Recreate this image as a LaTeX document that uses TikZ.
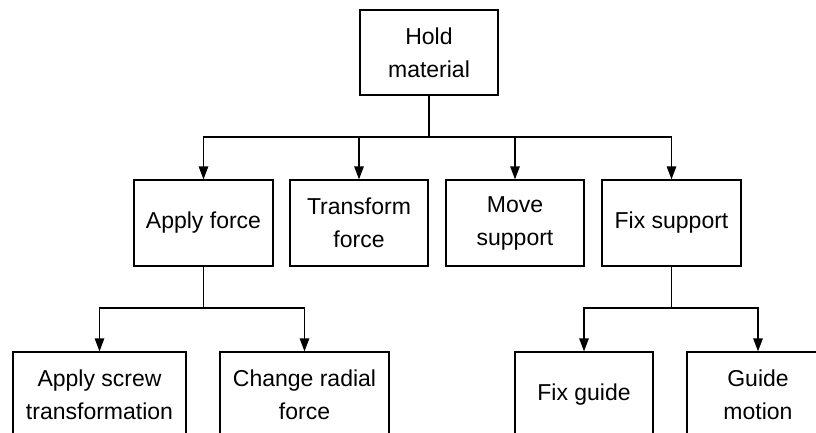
\documentclass[tikz,border=0pt]{standalone}
\usepackage{fontspec}
\setmainfont{Liberation Sans}
\usetikzlibrary{arrows.meta}
\begin{document}
\begin{tikzpicture}[x=1pt,y=-1pt,
  box/.style={draw,line width=1.3pt,rectangle,align=center,inner sep=0pt,
    minimum height=86pt,font=\fontsize{23}{33}\selectfont},
  link/.style={line width=1.3pt},
  arrow/.style={line width=1.3pt,-{Triangle[length=13pt,width=9.5pt]}}]
\useasboundingbox (0,0) rectangle (816,432);
\clip (0,0) rectangle (816,432);
\fill[white] (0,0) rectangle (816,432);
\node[box,minimum width=138pt,minimum height=85pt] (hold) at (429,52.5) {Hold\\material};
\node[box,minimum width=139pt] (apply) at (203.5,223) {Apply force};
\node[box,minimum width=138pt] (transform) at (359,223) {Transform\\force};
\node[box,minimum width=138pt] (move) at (515,223) {Move\\support};
\node[box,minimum width=139pt] (fix) at (671.5,223) {Fix support};
\node[box,minimum width=173pt] (screw) at (99.5,395) {Apply screw\\transformation};
\node[box,minimum width=169pt] (radial) at (304.5,395) {Change radial\\force};
\node[box,minimum width=138pt] (guide) at (584,395) {Fix guide};
\node[box,minimum width=142pt] (motion) at (758,395) {Guide\\motion};
\coordinate (j1) at (429,137);
\coordinate (j2) at (203.5,308);
\coordinate (j3) at (671.5,308);
\draw[link] (hold.south) -- (j1);
\draw[arrow] (j1) -| (apply.north);
\draw[arrow] (j1) -| (transform.north);
\draw[arrow] (j1) -| (move.north);
\draw[arrow] (j1) -| (fix.north);
\draw[link] (apply.south) -- (j2);
\draw[arrow] (j2) -| (screw.north);
\draw[arrow] (j2) -| (radial.north);
\draw[link] (fix.south) -- (j3);
\draw[arrow] (j3) -| (guide.north);
\draw[arrow] (j3) -| (motion.north);
\end{tikzpicture}
\end{document}
